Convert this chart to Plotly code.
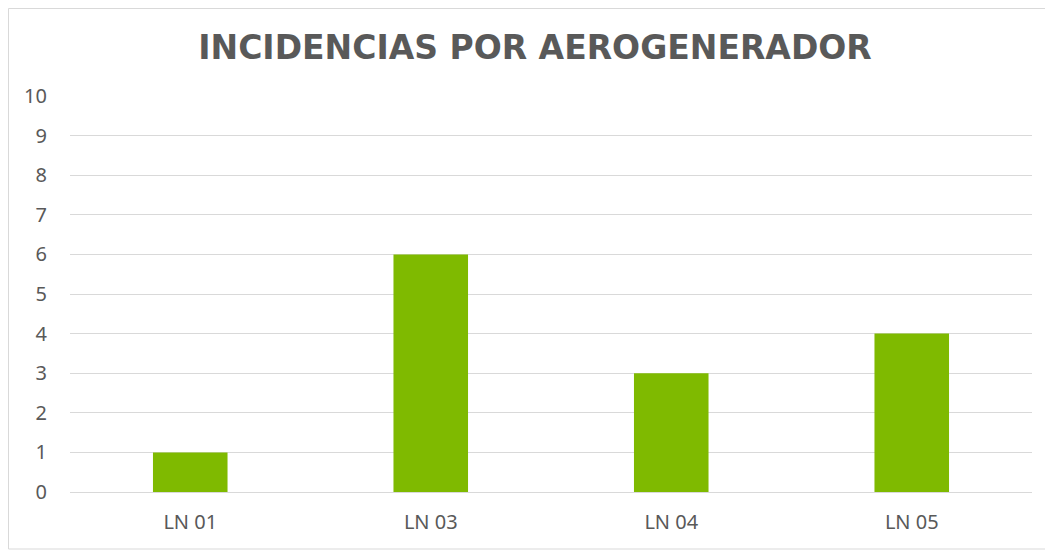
import plotly.graph_objects as go

categories = ["LN 01", "LN 03", "LN 04", "LN 05"]
incidencias = [1, 6, 3, 4]
y_ticks = list(range(0, 11))

W, H = 1053, 552
OFF = 8  # page body margin in the browser
L, R, T, B = 70 - OFF, 21 + OFF, 96 - OFF, 60 + OFF
pw, ph = W - L - R, H - T - B


def px_x(x):
    return (x - OFF - L) / pw


def px_y(y):
    return (H - B - (y - OFF)) / ph


fig = go.Figure(
    go.Bar(
        x=categories,
        y=incidencias,
        marker=dict(color="#7fba00", line=dict(width=0)),
    )
)

fig.update_layout(
    width=W,
    height=H,
    margin=dict(l=L, r=R, t=T, b=B),
    paper_bgcolor="white",
    plot_bgcolor="white",
    bargap=0.69,
    showlegend=False,
    title=dict(
        text="<b>INCIDENCIAS POR AEROGENERADOR</b>",
        x=px_x(535),
        xanchor="center",
        y=1 - (47 - OFF) / H,
        yanchor="middle",
        font=dict(family="DejaVu Sans", size=33, color="#595959"),
    ),
    font=dict(family="Noto Sans", size=20, color="#595959"),
    shapes=[
        dict(
            type="rect",
            xref="paper",
            yref="paper",
            x0=px_x(OFF + 0.5),
            x1=px_x(1049),
            y0=px_y(549),
            y1=px_y(OFF + 0.5),
            line=dict(color="#d9d9d9", width=1),
            layer="below",
        )
    ],
)
fig.update_layout(title_xref="paper")

fig.update_xaxes(
    showgrid=False,
    showline=True,
    linecolor="#d9d9d9",
    linewidth=1,
    ticks="",
    ticklabelstandoff=12,
    tickfont=dict(size=20, color="#595959"),
)
fig.update_yaxes(
    range=[0, 10],
    tickvals=y_ticks,
    showgrid=True,
    gridcolor="#d9d9d9",
    gridwidth=1,
    zeroline=False,
    showline=False,
    ticks="",
    ticklabelstandoff=22,
    tickfont=dict(size=20, color="#595959"),
)

fig.write_html("out.html")
